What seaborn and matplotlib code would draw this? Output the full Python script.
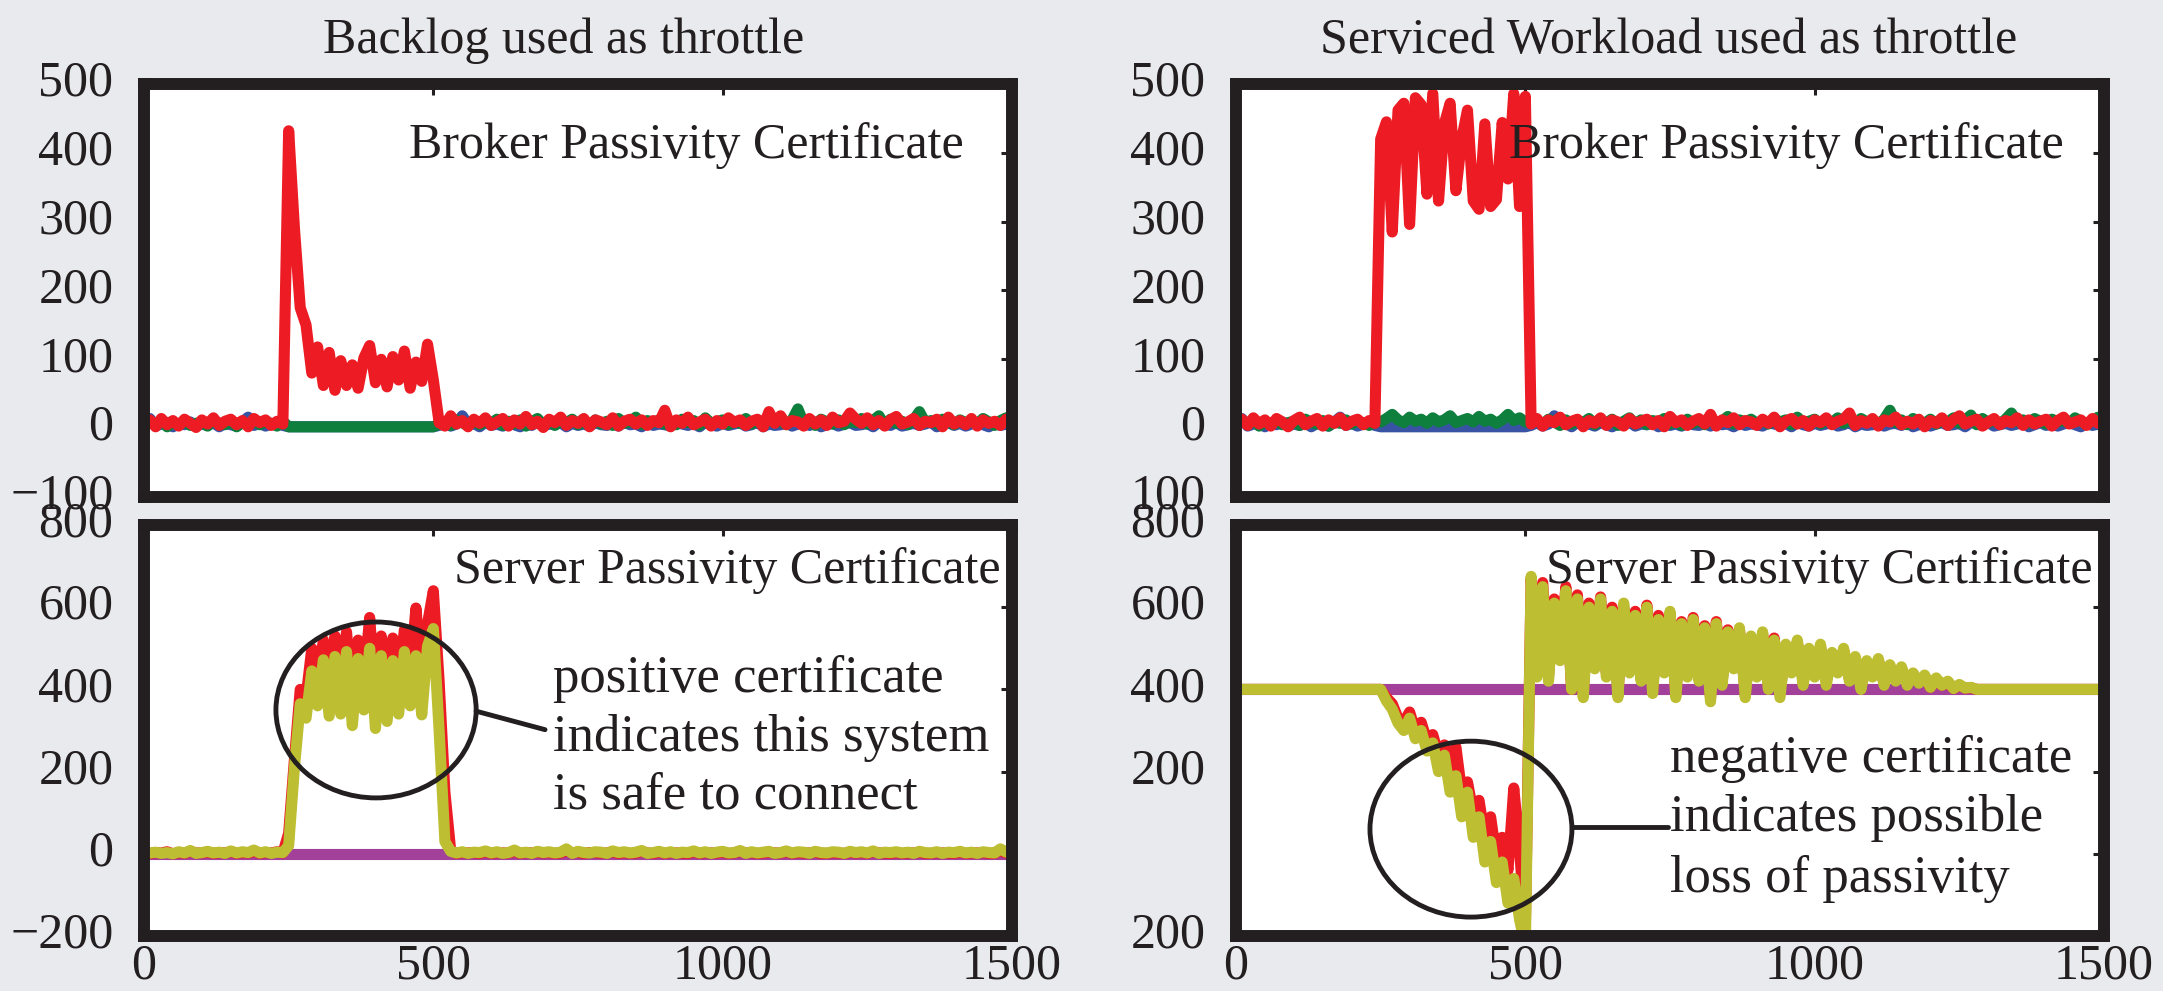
import numpy as np
import matplotlib
matplotlib.use("Agg")
import matplotlib.pyplot as plt
from matplotlib.patches import Ellipse
from matplotlib.transforms import ScaledTranslation
import seaborn as sns

# ---------------------------------------------------------------- data
# sample times (every 10 steps, 0..1500)
steps = np.arange(0, 1501, 10)

# Broker passivity certificate, backlog used as throttle
tl_blue = [
    4, 14, 3, 6, 8, 2, 7, 5, 9, 3,
    6, 4, 8, 2, 7, 5, 3, 9, 16, 4,
    7, 3, 6, 8, 4, 2, 2, 2, 2, 2,
    2, 2, 2, 2, 2, 2, 2, 2, 2, 2,
    2, 2, 2, 2, 2, 2, 2, 2, 2, 2,
    2, 4, 8, 3, 6, 18, 5, 7, 2, 9,
    4, 6, 3, 8, 5, 2, 7, 4, 9, 3,
    6, 5, 8, 2, 7, 4, 6, 3, 8, 5,
    4, 7, 3, 9, 5, 6, 2, 8, 4, 6,
    5, 3, 8, 6, 4, 7, 2, 9, 5, 3,
    7, 4, 6, 8, 3, 5, 9, 2, 6, 4,
    5, 8, 3, 6, 7, 4, 9, 2, 5, 7,
    3, 6, 8, 4, 5, 7, 2, 9, 6, 4,
    8, 3, 5, 7, 4, 6, 9, 2, 5, 8,
    4, 7, 3, 6, 8, 5, 2, 7, 4, 6,
    5,
]
tl_green = [
    3, 9, 6, 11, 2, 8, 5, 10, 4, 7,
    9, 3, 12, 7, 5, 10, 2, 8, 6, 11,
    5, 9, 7, 3, 10, 2, 2, 2, 2, 2,
    2, 2, 2, 2, 2, 2, 2, 2, 2, 2,
    2, 2, 2, 2, 2, 2, 2, 2, 2, 2,
    2, 6, 10, 4, 12, 8, 3, 11, 5, 9,
    7, 13, 4, 10, 6, 12, 3, 9, 14, 5,
    11, 4, 10, 8, 13, 5, 9, 3, 12, 6,
    10, 4, 14, 7, 9, 16, 5, 11, 8, 12,
    6, 10, 5, 13, 8, 11, 4, 15, 7, 9,
    12, 5, 10, 7, 14, 6, 11, 4, 13, 8,
    10, 5, 12, 28, 7, 11, 4, 13, 9, 6,
    12, 5, 10, 8, 14, 6, 11, 18, 4, 13,
    7, 10, 5, 12, 24, 8, 11, 6, 13, 9,
    5, 12, 8, 10, 6, 14, 9, 4, 11, 15,
    12,
]
tl_red = [
    6, 12, 2, 14, 5, 11, 3, 13, 7, 1,
    12, 6, 15, 4, 10, 13, 5, 11, 2, 14,
    8, 12, 4, 10, 6, 432, 290, 175, 150, 80,
    118, 62, 110, 55, 98, 62, 92, 58, 102, 120,
    66, 100, 60, 104, 70, 112, 58, 96, 68, 122,
    70, 8, 3, 18, 6, 11, 2, 13, 7, 15,
    4, 9, 14, 3, 12, 6, 17, 5, 10, 1,
    13, 8, 16, 4, 11, 7, 14, 2, 12, 9,
    5, 15, 3, 10, 13, 6, 12, 4, 11, 8,
    26, 2, 12, 7, 16, 5, 9, 13, 3, 11,
    6, 15, 8, 12, 4, 10, 13, 2, 24, 7,
    18, 5, 11, 9, 3, 14, 6, 12, 4, 16,
    8, 10, 22, 13, 7, 15, 5, 11, 3, 12,
    17, 6, 9, 14, 4, 10, 8, 13, 2, 16,
    6, 11, 5, 14, 3, 12, 7, 10, 4, 13,
    9,
]

# Broker passivity certificate, serviced workload used as throttle
tr_blue = tl_blue
tr_green = [
    4, 10, 7, 12, 3, 9, 6, 11, 5, 8,
    10, 4, 13, 8, 6, 11, 3, 9, 7, 12,
    6, 10, 8, 4, 11, 9, 14, 20, 12, 8,
    16, 10, 13, 7, 15, 9, 12, 18, 8, 11,
    14, 9, 17, 10, 13, 7, 12, 20, 11, 15,
    9, 7, 11, 5, 13, 9, 4, 12, 6, 10,
    8, 14, 5, 11, 7, 13, 4, 10, 15, 6,
    12, 5, 11, 9, 14, 6, 10, 4, 13, 7,
    11, 5, 15, 8, 10, 17, 6, 12, 9, 13,
    7, 11, 6, 14, 9, 12, 5, 16, 8, 10,
    13, 6, 11, 8, 15, 7, 12, 5, 14, 9,
    11, 6, 13, 26, 8, 12, 5, 14, 10, 7,
    13, 6, 11, 9, 15, 7, 12, 19, 5, 14,
    8, 11, 6, 13, 22, 9, 12, 7, 14, 10,
    6, 13, 9, 11, 7, 15, 10, 5, 12, 16,
    13,
]
tr_red = [
    8, 13, 4, 15, 6, 12, 3, 14, 9, 2,
    11, 16, 5, 10, 14, 3, 12, 7, 15, 4,
    10, 13, 5, 11, 7, 420, 445, 285, 462, 472,
    296, 480, 470, 340, 486, 330, 442, 472, 345, 420,
    462, 330, 318, 442, 322, 332, 444, 362, 486, 322,
    482, 6, 14, 3, 12, 8, 16, 5, 10, 13,
    2, 11, 7, 15, 4, 12, 9, 3, 14, 6,
    10, 13, 5, 11, 2, 17, 8, 12, 4, 10,
    14, 6, 20, 3, 12, 8, 15, 5, 11, 9,
    4, 13, 7, 16, 2, 10, 14, 6, 11, 3,
    12, 8, 15, 5, 10, 13, 22, 4, 11, 7,
    14, 3, 12, 9, 16, 5, 10, 6, 13, 2,
    11, 7, 15, 4, 12, 18, 6, 10, 13, 3,
    9, 14, 5, 11, 8, 15, 4, 12, 6, 10,
    13, 3, 11, 16, 6, 9, 12, 4, 14, 7,
    11,
]

# Server passivity certificate, backlog used as throttle
purple_span = [0, 1500]
bl_purple = [0, 0]
bl_red = [
    4, 1, 3, 2, 5, 0, 3, 1, 6, 2,
    2, 4, 1, 3, 2, 5, 1, 3, 2, 6,
    1, 3, 2, 5, 2, 50, 230, 400, 380, 500,
    420, 520, 400, 530, 420, 540, 380, 520, 420, 575,
    380, 530, 400, 525, 420, 545, 440, 598, 420, 560,
    640, 420, 150, 8, 1, 3, 2, 3, 1, 5,
    1, 3, 2, 2, 6, 1, 3, 2, 4, 2,
    3, 1, 2, 8, 2, 4, 1, 3, 3, 2,
    2, 5, 1, 3, 1, 2, 6, 2, 1, 4,
    1, 3, 2, 2, 1, 5, 1, 3, 2, 2,
    4, 1, 2, 6, 2, 3, 1, 2, 4, 2,
    2, 5, 1, 3, 2, 2, 4, 1, 1, 3,
    2, 1, 4, 2, 3, 1, 5, 2, 2, 1,
    3, 1, 2, 2, 4, 1, 1, 3, 2, 2,
    1, 4, 1, 2, 2, 3, 1, 1, 8, 2,
    4,
]
bl_yellow = [
    6, 2, 4, 1, 3, 0, 5, 2, 8, 1,
    3, 6, 2, 4, 1, 7, 2, 5, 3, 9,
    2, 5, 1, 4, 3, 20, 210, 365, 330, 445,
    360, 472, 335, 480, 340, 492, 312, 475, 350, 500,
    305, 482, 322, 470, 340, 492, 360, 482, 338, 505,
    548, 300, 30, 6, 2, 5, 1, 4, 3, 7,
    2, 5, 1, 3, 9, 2, 4, 1, 6, 3,
    5, 2, 4, 12, 1, 6, 3, 2, 5, 4,
    1, 7, 3, 5, 2, 4, 8, 1, 3, 6,
    2, 5, 1, 4, 3, 7, 2, 5, 1, 4,
    6, 2, 3, 8, 1, 5, 2, 4, 6, 1,
    3, 7, 2, 5, 4, 1, 6, 3, 2, 5,
    4, 1, 6, 3, 5, 2, 7, 1, 4, 3,
    5, 2, 4, 1, 6, 3, 2, 5, 1, 4,
    3, 6, 2, 4, 1, 5, 3, 2, 12, 4,
    6,
]

# Server passivity certificate, serviced workload used as throttle
br_purple = [400, 400]
br_red = [
    400, 400, 400, 400, 400, 400, 400, 400, 400, 400,
    400, 400, 400, 400, 400, 400, 400, 400, 400, 400,
    400, 400, 400, 400, 400, 400, 380, 365, 330, 320,
    345, 300, 320, 275, 290, 240, 265, 210, 260, 150,
    175, 100, 130, 40, 90, -10, 40, -40, 160, 10,
    -180, 670, 440, 660, 430, 620, 480, 650, 400, 630,
    390, 610, 460, 625, 440, 600, 390, 600, 450, 590,
    430, 605, 400, 580, 450, 580, 390, 565, 440, 575,
    430, 555, 380, 565, 420, 545, 455, 545, 390, 525,
    440, 535, 410, 525, 390, 505, 445, 515, 420, 495,
    440, 505, 420, 485, 445, 495, 425, 475, 410, 465,
    435, 470, 415, 455, 425, 450, 415, 438, 418, 432,
    405, 425, 410, 418, 402, 410, 403, 404, 400, 400,
    400, 400, 400, 400, 400, 400, 400, 400, 400, 400,
    400, 400, 400, 400, 400, 400, 400, 400, 400, 400,
    400,
]
br_yellow = [
    400, 400, 400, 400, 400, 400, 400, 400, 400, 400,
    400, 400, 400, 400, 400, 400, 400, 400, 400, 400,
    400, 400, 400, 400, 400, 400, 372, 352, 318, 300,
    330, 280, 300, 250, 270, 200, 240, 150, 190, 90,
    150, 40, 90, -20, 30, -70, -20, -120, -60, -160,
    -225, 675, 430, 650, 420, 610, 470, 640, 400, 620,
    380, 600, 450, 620, 430, 590, 380, 610, 440, 580,
    420, 600, 390, 570, 440, 590, 380, 560, 430, 570,
    420, 550, 370, 560, 410, 540, 450, 550, 380, 530,
    430, 540, 400, 520, 380, 510, 440, 520, 410, 500,
    430, 510, 410, 490, 440, 500, 420, 480, 400, 470,
    430, 475, 410, 460, 420, 455, 410, 440, 415, 435,
    405, 428, 410, 420, 402, 412, 403, 405, 400, 400,
    400, 400, 400, 400, 400, 400, 400, 400, 400, 400,
    400, 400, 400, 400, 400, 400, 400, 400, 400, 400,
    400,
]

# axis ticks and labels
x_ticks = [0, 500, 1000, 1500]
x_tick_labels = ["0", "500", "1000", "1500"]
top_y_ticks = [-100, 0, 100, 200, 300, 400, 500]
tl_y_labels = ["\u2212100", "0", "100", "200", "300", "400", "500"]
tr_y_labels = ["100", "0", "100", "200", "300", "400", "500"]
bottom_y_ticks = [-200, 0, 200, 400, 600, 800]
bl_y_labels = ["\u2212200", "0", "200", "400", "600", "800"]
br_y_labels = ["200", "", "200", "400", "600", "800"]

titles = ["Backlog used as throttle", "Serviced Workload used as throttle"]
broker_label = "Broker Passivity Certificate"
server_label = "Server Passivity Certificate"
pos_note = ["positive certificate", "indicates this system", "is safe to connect"]
neg_note = ["negative certificate", "indicates possible", "loss of passivity"]

# ---------------------------------------------------------------- style
BG = "#e8eaee"
INK = "#231f20"
RED = "#ed1c24"
GREEN = "#0f7f3e"
BLUE = "#3853a4"
PURPLE = "#a2409a"
OLIVE = "#bdbe32"

sns.set_theme(style="white")
plt.rcParams["font.family"] = ["Liberation Serif", "DejaVu Serif"]
plt.rcParams["axes.unicode_minus"] = True

FS = 36
NOTE_FS = 38

fig = plt.figure(figsize=(21.63, 9.91), dpi=100, facecolor=BG)
ax_tl = fig.add_axes([0.06657, 0.49849, 0.40130, 0.41675])
ax_bl = fig.add_axes([0.06657, 0.05550, 0.40130, 0.41473])
ax_tr = fig.add_axes([0.57143, 0.49849, 0.40130, 0.41675])
ax_br = fig.add_axes([0.57143, 0.05550, 0.40130, 0.41473])

LW = 8


def trace(ax, x, y, color):
    sns.lineplot(x=x, y=y, ax=ax, color=color, linewidth=LW,
                 estimator=None, sort=False, legend=False,
                 solid_capstyle="round", solid_joinstyle="round")


def frame(ax, yticks, ylabels, ylim, show_x):
    ax.set_facecolor("white")
    ax.set_xlim(0, 1500)
    ax.set_ylim(*ylim)
    ax.set_xticks(x_ticks)
    ax.set_yticks(yticks)
    ax.set_yticklabels(ylabels)
    if show_x:
        ax.set_xticklabels(x_tick_labels)
    else:
        ax.set_xticklabels([])
    ax.tick_params(axis="both", direction="in", length=8, width=2.2,
                   colors=INK, labelsize=FS, top=True, right=True,
                   labelcolor=INK)
    ax.tick_params(axis="y", pad=22)
    ax.tick_params(axis="x", pad=5)
    ax.set_xlabel("")
    ax.set_ylabel("")
    for sp in ax.spines.values():
        sp.set_visible(True)
        sp.set_linewidth(8.6)
        sp.set_color(INK)
        sp.set_capstyle("projecting")
        sp.set_zorder(6)
    lift = ScaledTranslation(0, 0.06, fig.dpi_scale_trans)
    for lbl in ax.get_yticklabels():
        lbl.set_transform(lbl.get_transform() + lift)


# top-left: backlog throttle, broker certificate
trace(ax_tl, steps, tl_blue, BLUE)
trace(ax_tl, steps, tl_green, GREEN)
trace(ax_tl, steps, tl_red, RED)
frame(ax_tl, top_y_ticks, tl_y_labels, (-100, 500), False)
ax_tl.text(938, 411, broker_label, ha="center", va="center", fontsize=FS,
           color=INK, zorder=7)
ax_tl.set_title(titles[0], fontsize=FS, color=INK, pad=22, x=0.484)

# top-right: serviced workload throttle, broker certificate
trace(ax_tr, steps, tr_blue, BLUE)
trace(ax_tr, steps, tr_green, GREEN)
trace(ax_tr, steps, tr_red, RED)
frame(ax_tr, top_y_ticks, tr_y_labels, (-100, 500), False)
ax_tr.text(951, 411, broker_label, ha="center", va="center", fontsize=FS,
           color=INK, zorder=7)
ax_tr.set_title(titles[1], fontsize=FS, color=INK, pad=22, x=0.498)

# bottom-left: backlog throttle, server certificate
trace(ax_bl, purple_span, bl_purple, PURPLE)
trace(ax_bl, steps, bl_red, RED)
trace(ax_bl, steps, bl_yellow, OLIVE)
frame(ax_bl, bottom_y_ticks, bl_y_labels, (-200, 800), True)
ax_bl.text(1008, 690, server_label, ha="center", va="center", fontsize=FS,
           color=INK, zorder=7)
ax_bl.add_patch(Ellipse((401, 350), 346, 428, fill=False, lw=3.5,
                        ec=INK, zorder=7))
ax_bl.plot([574, 693], [347, 302], color=INK, lw=3.5, zorder=7)
for line, yv in zip(pos_note, [425, 282, 141]):
    ax_bl.text(706, yv, line, ha="left", va="center", fontsize=NOTE_FS,
               color=INK, zorder=7)

# bottom-right: serviced workload throttle, server certificate
trace(ax_br, purple_span, br_purple, PURPLE)
trace(ax_br, steps, br_red, RED)
trace(ax_br, steps, br_yellow, OLIVE)
frame(ax_br, bottom_y_ticks, br_y_labels, (-200, 800), True)
ax_br.text(1008, 690, server_label, ha="center", va="center", fontsize=FS,
           color=INK, zorder=7)
ax_br.add_patch(Ellipse((406, 60), 349, 428, fill=False, lw=3.5,
                        ec=INK, zorder=7))
ax_br.plot([581, 747], [65, 65], color=INK, lw=3.5, zorder=7)
for line, yv in zip(neg_note, [231, 87, -61]):
    ax_br.text(750, yv, line, ha="left", va="center", fontsize=NOTE_FS,
               color=INK, zorder=7)

fig.savefig("out.png", dpi=100, facecolor=BG)
